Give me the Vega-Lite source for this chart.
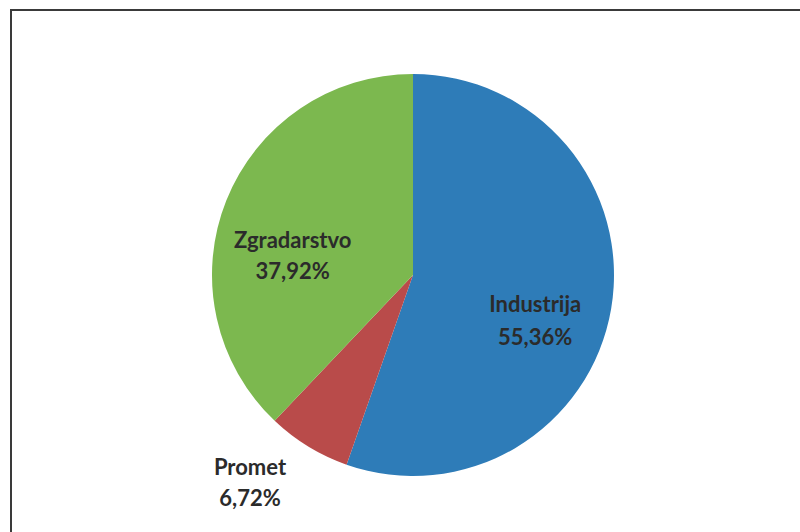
{
  "$schema": "https://vega.github.io/schema/vega-lite/v6.json",
  "width": 800,
  "height": 532,
  "autosize": {"type": "fit", "contains": "padding"},
  "padding": {"left": 11, "top": 10, "right": -15, "bottom": -8},
  "background": "white",
  "view": {"stroke": "#3a3a3a", "strokeWidth": 2, "fill": "white"},
  "data": {"values": [
    {"category": "Industrija", "value": 55.36, "pct": "55,36%", "order": 1},
    {"category": "Promet", "value": 6.72, "pct": "6,72%", "order": 2},
    {"category": "Zgradarstvo", "value": 37.92, "pct": "37,92%", "order": 3}
  ]},
  "transform": [
    {"stack": "value", "groupby": [], "sort": [{"field": "order"}], "as": ["v0", "v1"]},
    {"calculate": "(datum.v0 + datum.v1) / 2", "as": "mid"},
    {"calculate": "datum.category + '\\n' + datum.pct", "as": "lbl"}
  ],
  "layer": [
    {
      "mark": {"type": "arc", "radius": 201, "stroke": null},
      "encoding": {
        "theta": {"field": "v0", "type": "quantitative", "scale": {"domain": [0, 100], "range": [0, 6.283185307]}},
        "theta2": {"field": "v1"},
        "color": {"field": "category", "type": "nominal", "legend": null,
          "scale": {"domain": ["Industrija", "Promet", "Zgradarstvo"], "range": ["#2e7cb8", "#b94b4a", "#7cb84f"]}}
      }
    },
    {
      "transform": [{"filter": "datum.category == 'Industrija'"}],
      "mark": {"type": "text", "radius": 130, "dx": -6, "dy": 8, "font": "Lato", "fontWeight": "bold", "fontSize": 22, "lineHeight": 33, "lineBreak": "\n", "color": "#2b2b2b", "align": "center", "baseline": "middle"},
      "encoding": {
        "theta": {"field": "mid", "type": "quantitative", "scale": {"domain": [0, 100], "range": [0, 6.283185307]}},
        "text": {"field": "lbl"}
      }
    },
    {
      "transform": [{"filter": "datum.category == 'Zgradarstvo'"}],
      "mark": {"type": "text", "radius": 122, "dx": -7, "dy": 11, "font": "Lato", "fontWeight": "bold", "fontSize": 22, "lineHeight": 31, "lineBreak": "\n", "color": "#2b2b2b", "align": "center", "baseline": "middle"},
      "encoding": {
        "theta": {"field": "mid", "type": "quantitative", "scale": {"domain": [0, 100], "range": [0, 6.283185307]}},
        "text": {"field": "lbl"}
      }
    },
    {
      "transform": [{"filter": "datum.category == 'Promet'"}],
      "mark": {"type": "text", "radius": 263, "dx": -26, "dy": -32, "font": "Lato", "fontWeight": "bold", "fontSize": 22, "lineHeight": 31, "lineBreak": "\n", "color": "#2b2b2b", "align": "center", "baseline": "middle"},
      "encoding": {
        "theta": {"field": "mid", "type": "quantitative", "scale": {"domain": [0, 100], "range": [0, 6.283185307]}},
        "text": {"field": "lbl"}
      }
    }
  ]
}
